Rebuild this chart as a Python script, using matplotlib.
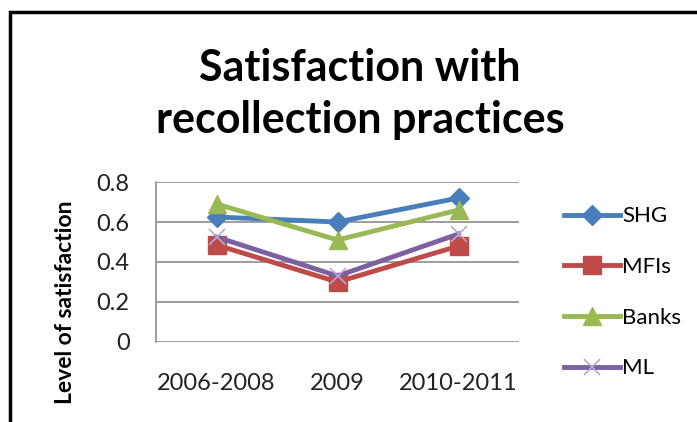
import matplotlib
matplotlib.use("Agg")
import matplotlib.pyplot as plt
from matplotlib.patches import Rectangle

periods = ["2006-2008", "2009", "2010-2011"]
shg = [0.625, 0.60, 0.72]
mfis = [0.485, 0.30, 0.48]
banks = [0.69, 0.51, 0.66]
ml = [0.525, 0.33, 0.54]

plt.rcParams['font.family'] = ['Lato', 'DejaVu Sans']

fig = plt.figure(figsize=(6.97, 4.22), dpi=100)
ax = fig.add_axes([156/697, 1 - 342/422, 363/697, 160/422])

x = list(range(len(periods)))
lw = 3.5
ax.plot(x, shg, color="#4a7ebb", lw=lw, marker="D", ms=10, label="SHG")
ax.plot(x, mfis, color="#be4b48", lw=lw, marker="s", ms=13, label="MFIs")
ax.plot(x, banks, color="#98b954", lw=lw, marker="^", ms=13, label="Banks")
ax.plot(x, ml, color="#7d60a0", lw=lw, marker="x", ms=11, mew=1.2,
        mec="#b9a7d3", label="ML")

ax.set_xlim(-0.5, 2.5)
ax.set_ylim(0, 0.8)
ax.set_yticks([0, 0.2, 0.4, 0.6, 0.8])
ax.set_yticklabels(["0", "0.2", "0.4", "0.6", "0.8"])
ax.set_xticks(x)
ax.set_xticklabels(periods)
ax.grid(axis="y", color="#8c8c8c", lw=1.2)
ax.set_axisbelow(True)
for s in ["top", "right", "bottom"]:
    ax.spines[s].set_visible(False)
ax.spines["left"].set_color("#8c8c8c")
ax.spines["left"].set_linewidth(1.2)
ax.tick_params(axis="y", length=0, labelsize=17, pad=19, colors="#222222")
ax.tick_params(axis="x", length=0, labelsize=17, pad=22, colors="#222222")
ax.set_ylabel("Level of satisfaction", fontsize=16.5, fontweight="bold")
ax.yaxis.set_label_coords(-0.25, 0.25)
ax.yaxis.label.set_va("center")

fig.text(360/697, 1 - 94/422, "Satisfaction with\nrecollection practices",
         ha="center", va="center", fontsize=31, fontweight="bold",
         linespacing=1.38)

ax.legend(loc="center left", bbox_to_anchor=(1.07, 0.31), frameon=False,
          fontsize=16, handlelength=2.5, labelspacing=1.38, handletextpad=0.1)

# outer chart border
fig.patches.append(Rectangle((10/697, -0.1), 1.0, 1 - 12/422 + 0.1,
                             transform=fig.transFigure, fill=False,
                             ec="black", lw=2.5))

fig.savefig("out.png", dpi=100)
